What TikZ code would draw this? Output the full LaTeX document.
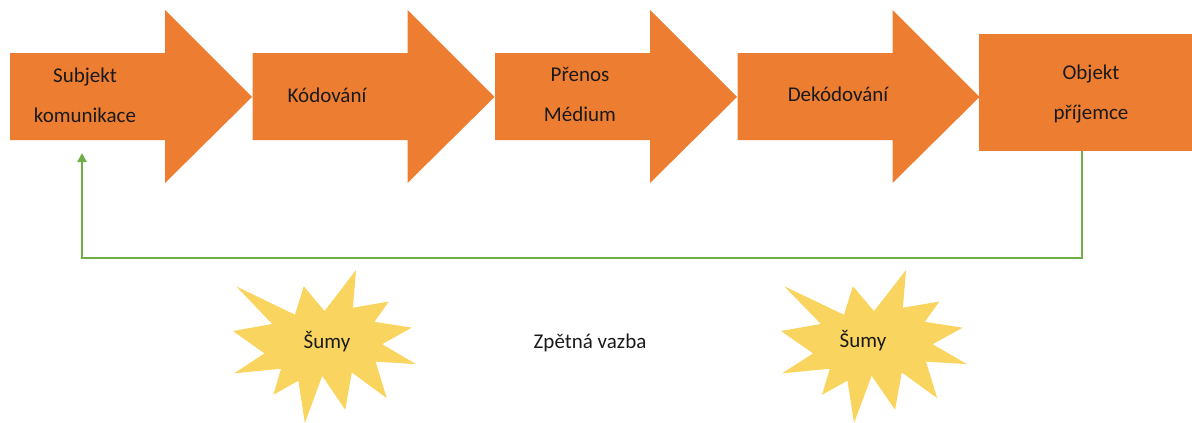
\documentclass[tikz,border=0pt]{standalone}
\usepackage{fontspec}
\setmainfont{Carlito}
\usetikzlibrary{arrows.meta}
\definecolor{flowOrange}{HTML}{ED7D31}
\definecolor{noiseYellow}{HTML}{F9D45E}
\definecolor{fbGreen}{HTML}{70AD47}
\definecolor{txtDark}{HTML}{1A1A1A}
\newcommand\flowshape[1]{%
  \fill[flowOrange] (#1,53) -- ++(155,0) -- ++(0,-43) -- ++(87,87) -- ++(-87,86) -- ++(0,-43) -- ++(-155,0) -- cycle;}
\newcommand\explosionshape[4]{%
  \begin{scope}[shift={(#1,#2)}, x=#3pt, y=-#4pt]
  \fill[noiseYellow] (50,26.85) -- (67.23,0) -- (65.53,24.65) -- (85.09,20.63) -- (77.32,33.87)
    -- (97.67,37.67) -- (81.51,48.50) -- (100,61.53) -- (77.95,59.92) -- (84.00,83.77)
    -- (64.91,66.93) -- (61.33,91.38) -- (48.76,69.14) -- (39.28,100) -- (35.72,72.35)
    -- (22.05,81.56) -- (26.24,64.52) -- (0.63,67.53) -- (17.23,54.51) -- (0,39.88)
    -- (21.42,35.26) -- (1.71,10.63) -- (33.85,29.26) -- (38.67,10.63) -- cycle;
  \end{scope}}
\begin{document}
\begin{tikzpicture}[x=1pt,y=-1pt,
  lbl/.style={font=\fontsize{21}{40}\selectfont, text=txtDark, align=center, inner sep=0pt},
  one/.style={lbl, anchor=base},
  feedback/.style={draw=fbGreen, line width=2pt, -{Triangle[width=9pt,length=9pt]}}]
\useasboundingbox (0,0) rectangle (1192,423);
\flowshape{10}
\flowshape{252.5}
\flowshape{495}
\flowshape{737.5}
\node[fill=flowOrange, minimum width=213pt, minimum height=117pt, inner sep=0pt, anchor=north west] (obj) at (979,34) {};
\explosionshape{233}{270}{1.83}{1.53}
\explosionshape{781}{270}{1.86}{1.53}
\node[lbl] (subj) at (85,95) {Subjekt\\komunikace};
\node[one] (kod) at (327,102) {Kódování};
\node[lbl] (pren) at (580,94) {Přenos\\Médium};
\node[one] (dek) at (838,101) {Dekódování};
\node[lbl] (objl) at (1091,94) {Objekt\\příjemce};
\node[one] (sum1) at (327,348) {Šumy};
\node[one] (sum2) at (863,347) {Šumy};
\node[one] (zpet) at (590,348) {Zpětná vazba};
\coordinate (fbend) at (82,153);
\draw[feedback] ([xshift=-3.5pt]obj.south) -- ++(0,107) -| (fbend);
\end{tikzpicture}
\end{document}
